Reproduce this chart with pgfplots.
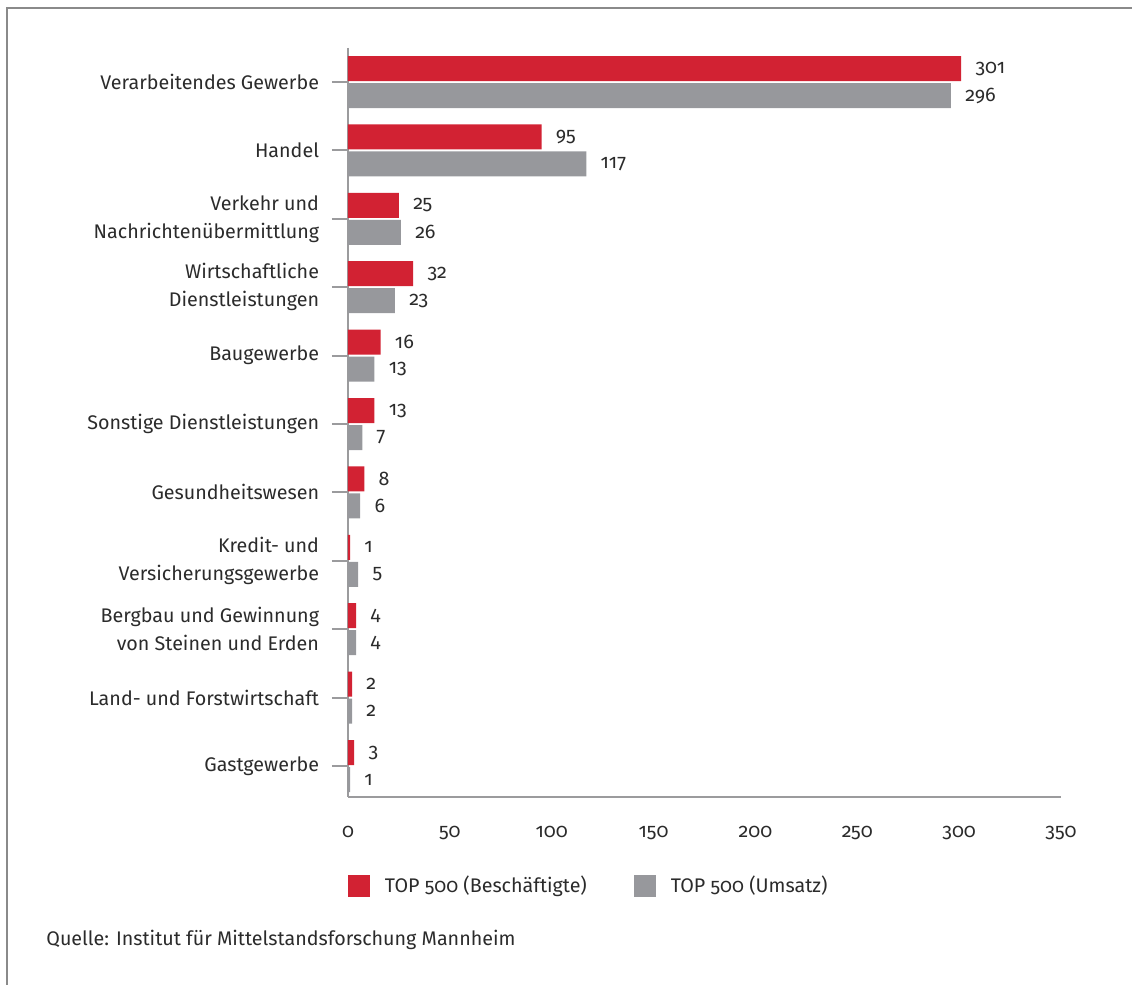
\documentclass[border=0pt]{standalone}
\usepackage{fontspec}
\setmainfont{Fira Sans}[Numbers=OldStyle]
\usepackage{pgfplots}
\pgfplotsset{compat=1.18}
\definecolor{barred}{HTML}{D22233}
\definecolor{bargray}{HTML}{97989C}
\definecolor{axgray}{HTML}{9B9B9D}
\definecolor{framegray}{HTML}{8A8A8A}
\definecolor{txt}{HTML}{2B2B2B}
\begin{document}
\fontsize{9.85pt}{14pt}\selectfont
\begin{tikzpicture}[font=\fontsize{9.85pt}{14pt}\selectfont]
\path[use as bounding box] (0pt,0pt) rectangle (566pt,-492.5pt);
\draw[framegray, line width=0.6pt] (3.5pt,-492.5pt) -- (3.5pt,-4pt) -- (566pt,-4pt);
\begin{axis}[
  at={(174pt,-398.5pt)}, anchor=south west,
  scale only axis, width=356.5pt, height=374.6pt,
  xmin=0, xmax=350, ymin=-0.5, ymax=10.453, y dir=reverse,
  xbar=1pt, bar width=12.5pt,
  axis x line*=bottom, axis y line*=left,
  axis line style={axgray, line width=1pt, -},
  xtick={0,50,...,350}, xtick style={draw=none},
  ytick={0,...,10},
  yticklabels={{Verarbeitendes Gewerbe},{Handel},{Verkehr und\\Nachrichtenübermittlung},{Wirtschaftliche\\Dienstleistungen},{Baugewerbe},{Sonstige Dienstleistungen},{Gesundheitswesen},{Kredit- und\\Versicherungsgewerbe},{Bergbau und Gewinnung\\von Steinen und Erden},{Land- und Forstwirtschaft},{Gastgewerbe}},
  y tick style={axgray, line width=1pt},
  major tick length=8pt, tick align=outside,
  every tick label/.append style={text=txt},
  yticklabel style={align=right, xshift=-3pt},
  xticklabel style={anchor=base, yshift=-12pt},
  /pgf/number format/assume math mode=true,
  point meta=x,
  nodes near coords,
  nodes near coords style={anchor=west, inner sep=0pt, xshift=7pt, text=txt},
  legend columns=2, reverse legend,
  legend image code/.code={\fill[#1,draw=none] (0pt,-5.5pt) rectangle (11pt,5.5pt);},
  legend style={at={(0,-0.1188)}, anchor=west, draw=none, fill=none,
    inner sep=0pt, outer sep=0pt,
    nodes={inner sep=0pt, text=txt},
    /tikz/every odd column/.append style={column sep=7.5pt},
    /tikz/every even column/.append style={column sep=23.5pt}},
]
\addplot[fill=bargray, draw=none] coordinates {(296,0) (117,1) (26,2) (23,3) (13,4) (7,5) (6,6) (5,7) (4,8) (2,9) (1,10)};
\addplot[fill=barred, draw=none] coordinates {(301,0) (95,1) (25,2) (32,3) (16,4) (13,5) (8,6) (1,7) (4,8) (2,9) (3,10)};
\legend{TOP 500 (Umsatz), TOP 500 (Beschäftigte)}
\end{axis}
\node[anchor=base west, inner sep=0pt, text=txt] at (23pt,-472.5pt) {Quelle: Institut für Mittelstandsforschung Mannheim};
\end{tikzpicture}
\end{document}
